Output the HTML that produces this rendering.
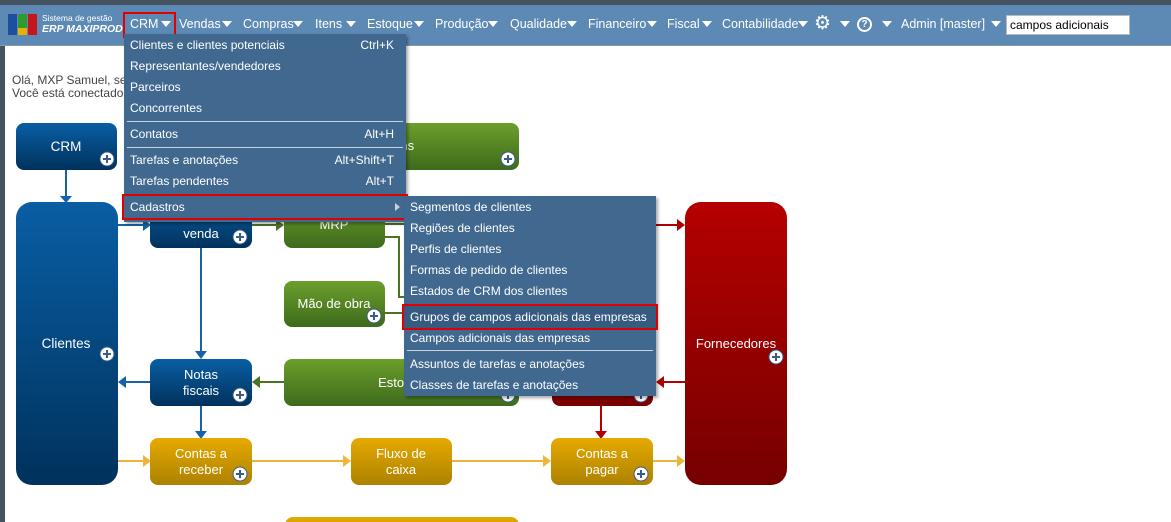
<!DOCTYPE html>
<html><head><meta charset="utf-8"><style>
*{margin:0;padding:0;box-sizing:border-box}
body{width:1171px;height:522px;overflow:hidden;background:#fff;font-family:"Liberation Sans","DejaVu Sans",sans-serif;position:relative}
.a{position:absolute}
.nav{color:#fff;font-size:12.5px;top:17px;white-space:nowrap}
.tri{position:absolute;top:21px;width:0;height:0;border-left:5px solid transparent;border-right:5px solid transparent;border-top:6px solid #fff}
.menu{background:#41698f;box-shadow:2px 2px 3px rgba(0,0,0,.35);color:#fff;font-size:12px}
.it{position:absolute;left:6px;white-space:nowrap}
.sc{position:absolute;right:12px;white-space:nowrap}
.sep{position:absolute;left:3px;right:3px;height:1px;background:#c8d3de}
.red{position:absolute;border:2px solid #e00000}
</style></head><body>
<div class="a" style="left:0;top:0;width:1171px;height:5px;background:#44535f"></div>
<div class="a" style="left:0;top:5px;width:1171px;height:41px;background:#5d89b5;border-bottom:1px solid #8a9aa8"></div>
<div class="a" style="left:0;top:46px;width:5px;height:476px;background:#44535f"></div>
<div class="a" style="left:8px;top:14px;width:9px;height:21px;background:#1c4f9e"></div>
<div class="a" style="left:18px;top:14px;width:9px;height:14px;background:#2f9a2f"></div>
<div class="a" style="left:18px;top:28px;width:9px;height:7px;background:#e8b000"></div>
<div class="a" style="left:28px;top:14px;width:9px;height:21px;background:#c4161c"></div>
<div class="a" style="left:42px;top:13px;color:#fff;font-size:8.5px">Sistema de gestão</div>
<div class="a" style="left:42px;top:23px;color:#fff;font-size:10.5px;font-weight:bold;font-style:italic">ERP MAXIPROD</div>
<div class="red" style="left:123px;top:12px;width:53px;height:26px"></div>
<div class="a nav" style="left:130px">CRM</div><div class="tri" style="left:161px"></div>
<div class="a nav" style="left:179px">Vendas</div><div class="tri" style="left:222px"></div>
<div class="a nav" style="left:243px">Compras</div><div class="tri" style="left:293px"></div>
<div class="a nav" style="left:315px">Itens</div><div class="tri" style="left:346px"></div>
<div class="a nav" style="left:367px">Estoque</div><div class="tri" style="left:414px"></div>
<div class="a nav" style="left:435px">Produção</div><div class="tri" style="left:488px"></div>
<div class="a nav" style="left:510px">Qualidade</div><div class="tri" style="left:567px"></div>
<div class="a nav" style="left:588px">Financeiro</div><div class="tri" style="left:647px"></div>
<div class="a nav" style="left:667px">Fiscal</div><div class="tri" style="left:702px"></div>
<div class="a nav" style="left:722px">Contabilidade</div><div class="tri" style="left:798px"></div>
<div class="a" style="left:814px;top:12px;color:#fff;font-size:19px;line-height:24px">⚙</div>
<div class="tri" style="left:840px"></div>
<div class="a" style="left:857px;top:17px;width:15px;height:15px;border:2px solid #fff;border-radius:50%;color:#fff;font-size:10px;font-weight:bold;text-align:center;line-height:11px">?</div>
<div class="tri" style="left:882px"></div>
<div class="a nav" style="left:901px">Admin [master]</div><div class="tri" style="left:991px"></div>
<div class="a" style="left:1006px;top:15px;width:124px;height:20px;background:#fff;border:1px solid #bbb;font-size:12px;padding:2px 3px;color:#000">campos adicionais</div>
<div class="a" style="left:12px;top:74px;font-size:12px;color:#444;line-height:13px">Olá, MXP Samuel, seja bem-vindo<br>Você está conectado</div>

<svg class="a" style="left:0;top:0" width="1171" height="522">
<defs>
<linearGradient id="b" x1="0" y1="0" x2="0" y2="1"><stop offset="0" stop-color="#0a5ea4"/><stop offset="1" stop-color="#00325c"/></linearGradient>
<linearGradient id="g" x1="0" y1="0" x2="0" y2="1"><stop offset="0" stop-color="#6b9f2c"/><stop offset="1" stop-color="#3e6a1c"/></linearGradient>
<linearGradient id="y" x1="0" y1="0" x2="0" y2="1"><stop offset="0" stop-color="#e6aa00"/><stop offset="1" stop-color="#ad8200"/></linearGradient>
<linearGradient id="r" x1="0" y1="0" x2="0" y2="1"><stop offset="0" stop-color="#b50000"/><stop offset="1" stop-color="#760000"/></linearGradient>
<g id="p"><circle r="7" fill="#fff" stroke="#3a5c8a" stroke-width="1"/><path d="M-4 0H4M0 -4V4" stroke="#3a5c8a" stroke-width="2"/></g>
</defs>
<g stroke-width="2" fill="none">
<path d="M66 170V196" stroke="#1463a8"/>
<path d="M118 225H144" stroke="#1463a8"/>
<path d="M201 248V352" stroke="#1463a8"/>
<path d="M150 382H124" stroke="#1463a8"/>
<path d="M201 406V432" stroke="#1463a8"/>
<path d="M252 225H278" stroke="#4a7324"/>
<path d="M385 224H404M385 237H399V297H404M385 313H404" stroke="#4a7324"/>
<path d="M284 382H258" stroke="#4a7324"/>
<path d="M656 225H679M685 382H662M601 406V432" stroke="#b00000"/>
<path d="M118 461H144M252 461H345M452 461H545M653 461H679" stroke="#efb43a"/>
</g>
<g>
<path d="M60 196h12l-6 7z" fill="#1463a8"/>
<path d="M143 219v12l8-6z" fill="#1463a8"/>
<path d="M195 351h12l-6 8z" fill="#1463a8"/>
<path d="M126 376v12l-8-6z" fill="#1463a8"/>
<path d="M195 431h12l-6 8z" fill="#1463a8"/>
<path d="M276 219v12l8-6z" fill="#4a7324"/>
<path d="M260 376v12l-8-6z" fill="#4a7324"/>
<path d="M677 219v12l8-6z" fill="#b00000"/>
<path d="M664 376v12l-8-6z" fill="#b00000"/>
<path d="M595 431h12l-6 8z" fill="#b00000"/>
<path d="M143 455v12l8-6zM343 455v12l8-6zM543 455v12l8-6zM677 455v12l8-6z" fill="#efb43a"/>
</g>
<rect x="16" y="123" width="101" height="47" rx="8" fill="url(#b)"/>
<rect x="16" y="202" width="102" height="283" rx="16" fill="url(#b)"/>
<rect x="150" y="200" width="102" height="48" rx="8" fill="url(#b)"/>
<rect x="150" y="359" width="102" height="47" rx="8" fill="url(#b)"/>
<rect x="285" y="123" width="234" height="47" rx="8" fill="url(#g)"/>
<rect x="284" y="200" width="101" height="48" rx="8" fill="url(#g)"/>
<rect x="284" y="281" width="101" height="46" rx="8" fill="url(#g)"/>
<rect x="284" y="359" width="235" height="47" rx="8" fill="url(#g)"/>
<rect x="552" y="359" width="101" height="47" rx="8" fill="url(#r)"/>
<rect x="685" y="202" width="102" height="283" rx="16" fill="url(#r)"/>
<rect x="150" y="438" width="102" height="47" rx="8" fill="url(#y)"/>
<rect x="351" y="438" width="101" height="47" rx="8" fill="url(#y)"/>
<rect x="551" y="438" width="102" height="47" rx="8" fill="url(#y)"/>
<rect x="285" y="517" width="234" height="30" rx="8" fill="url(#y)"/>
<g fill="#fff" font-family="Liberation Sans,sans-serif" font-size="13" text-anchor="middle">
<text x="66" y="151" font-size="13.5">CRM</text>
<text x="66" y="348" font-size="13.5">Clientes</text>
<text x="201" y="222">Pedidos de</text><text x="201" y="238">venda</text>
<text x="201" y="379">Notas</text><text x="201" y="395">fiscais</text>
<text x="400" y="150">Itens</text>
<text x="334" y="229">MRP</text>
<text x="334" y="308">Mão de obra</text>
<text x="402" y="387">Estoque</text>
<text x="736" y="348">Fornecedores</text>
<text x="201" y="458">Contas a</text><text x="201" y="474">receber</text>
<text x="401" y="458">Fluxo de</text><text x="401" y="474">caixa</text>
<text x="602" y="458">Contas a</text><text x="602" y="474">pagar</text>
</g>
<use href="#p" x="107" y="159"/><use href="#p" x="107" y="354"/><use href="#p" x="240" y="237"/>
<use href="#p" x="240" y="395"/><use href="#p" x="508" y="159"/><use href="#p" x="374" y="316"/>
<use href="#p" x="508" y="395"/><use href="#p" x="641" y="395"/><use href="#p" x="776" y="357"/>
<use href="#p" x="240" y="474"/><use href="#p" x="641" y="474"/>
</svg>

<div class="a menu" style="left:124px;top:34px;width:282px;height:188px">
<div class="it" style="top:4px">Clientes e clientes potenciais</div><div class="sc" style="top:4px">Ctrl+K</div>
<div class="it" style="top:25px">Representantes/vendedores</div>
<div class="it" style="top:46px">Parceiros</div>
<div class="it" style="top:67px">Concorrentes</div>
<div class="sep" style="top:87px"></div>
<div class="it" style="top:93px">Contatos</div><div class="sc" style="top:93px">Alt+H</div>
<div class="sep" style="top:113px"></div>
<div class="it" style="top:119px">Tarefas e anotações</div><div class="sc" style="top:119px">Alt+Shift+T</div>
<div class="it" style="top:140px">Tarefas pendentes</div><div class="sc" style="top:140px">Alt+T</div>
<div class="it" style="top:166px">Cadastros</div>
<div class="a" style="right:6px;top:169px;width:0;height:0;border-top:4px solid transparent;border-bottom:4px solid transparent;border-left:5px solid #c8d0d8"></div>
</div>
<div class="red" style="left:122px;top:194px;width:286px;height:26px"></div>
<div class="a menu" style="left:404px;top:196px;width:252px;height:200px">
<div class="it" style="top:4px">Segmentos de clientes</div>
<div class="it" style="top:25px">Regiões de clientes</div>
<div class="it" style="top:46px">Perfis de clientes</div>
<div class="it" style="top:67px">Formas de pedido de clientes</div>
<div class="it" style="top:88px">Estados de CRM dos clientes</div>
<div class="a" style="left:0;top:110px;width:252px;height:22px;background:#365b80"></div>
<div class="it" style="top:114px">Grupos de campos adicionais das empresas</div>
<div class="it" style="top:135px">Campos adicionais das empresas</div>
<div class="sep" style="top:154px"></div>
<div class="it" style="top:161px">Assuntos de tarefas e anotações</div>
<div class="it" style="top:182px">Classes de tarefas e anotações</div>
</div>
<div class="red" style="left:402px;top:304px;width:256px;height:26px"></div>
</body></html>
